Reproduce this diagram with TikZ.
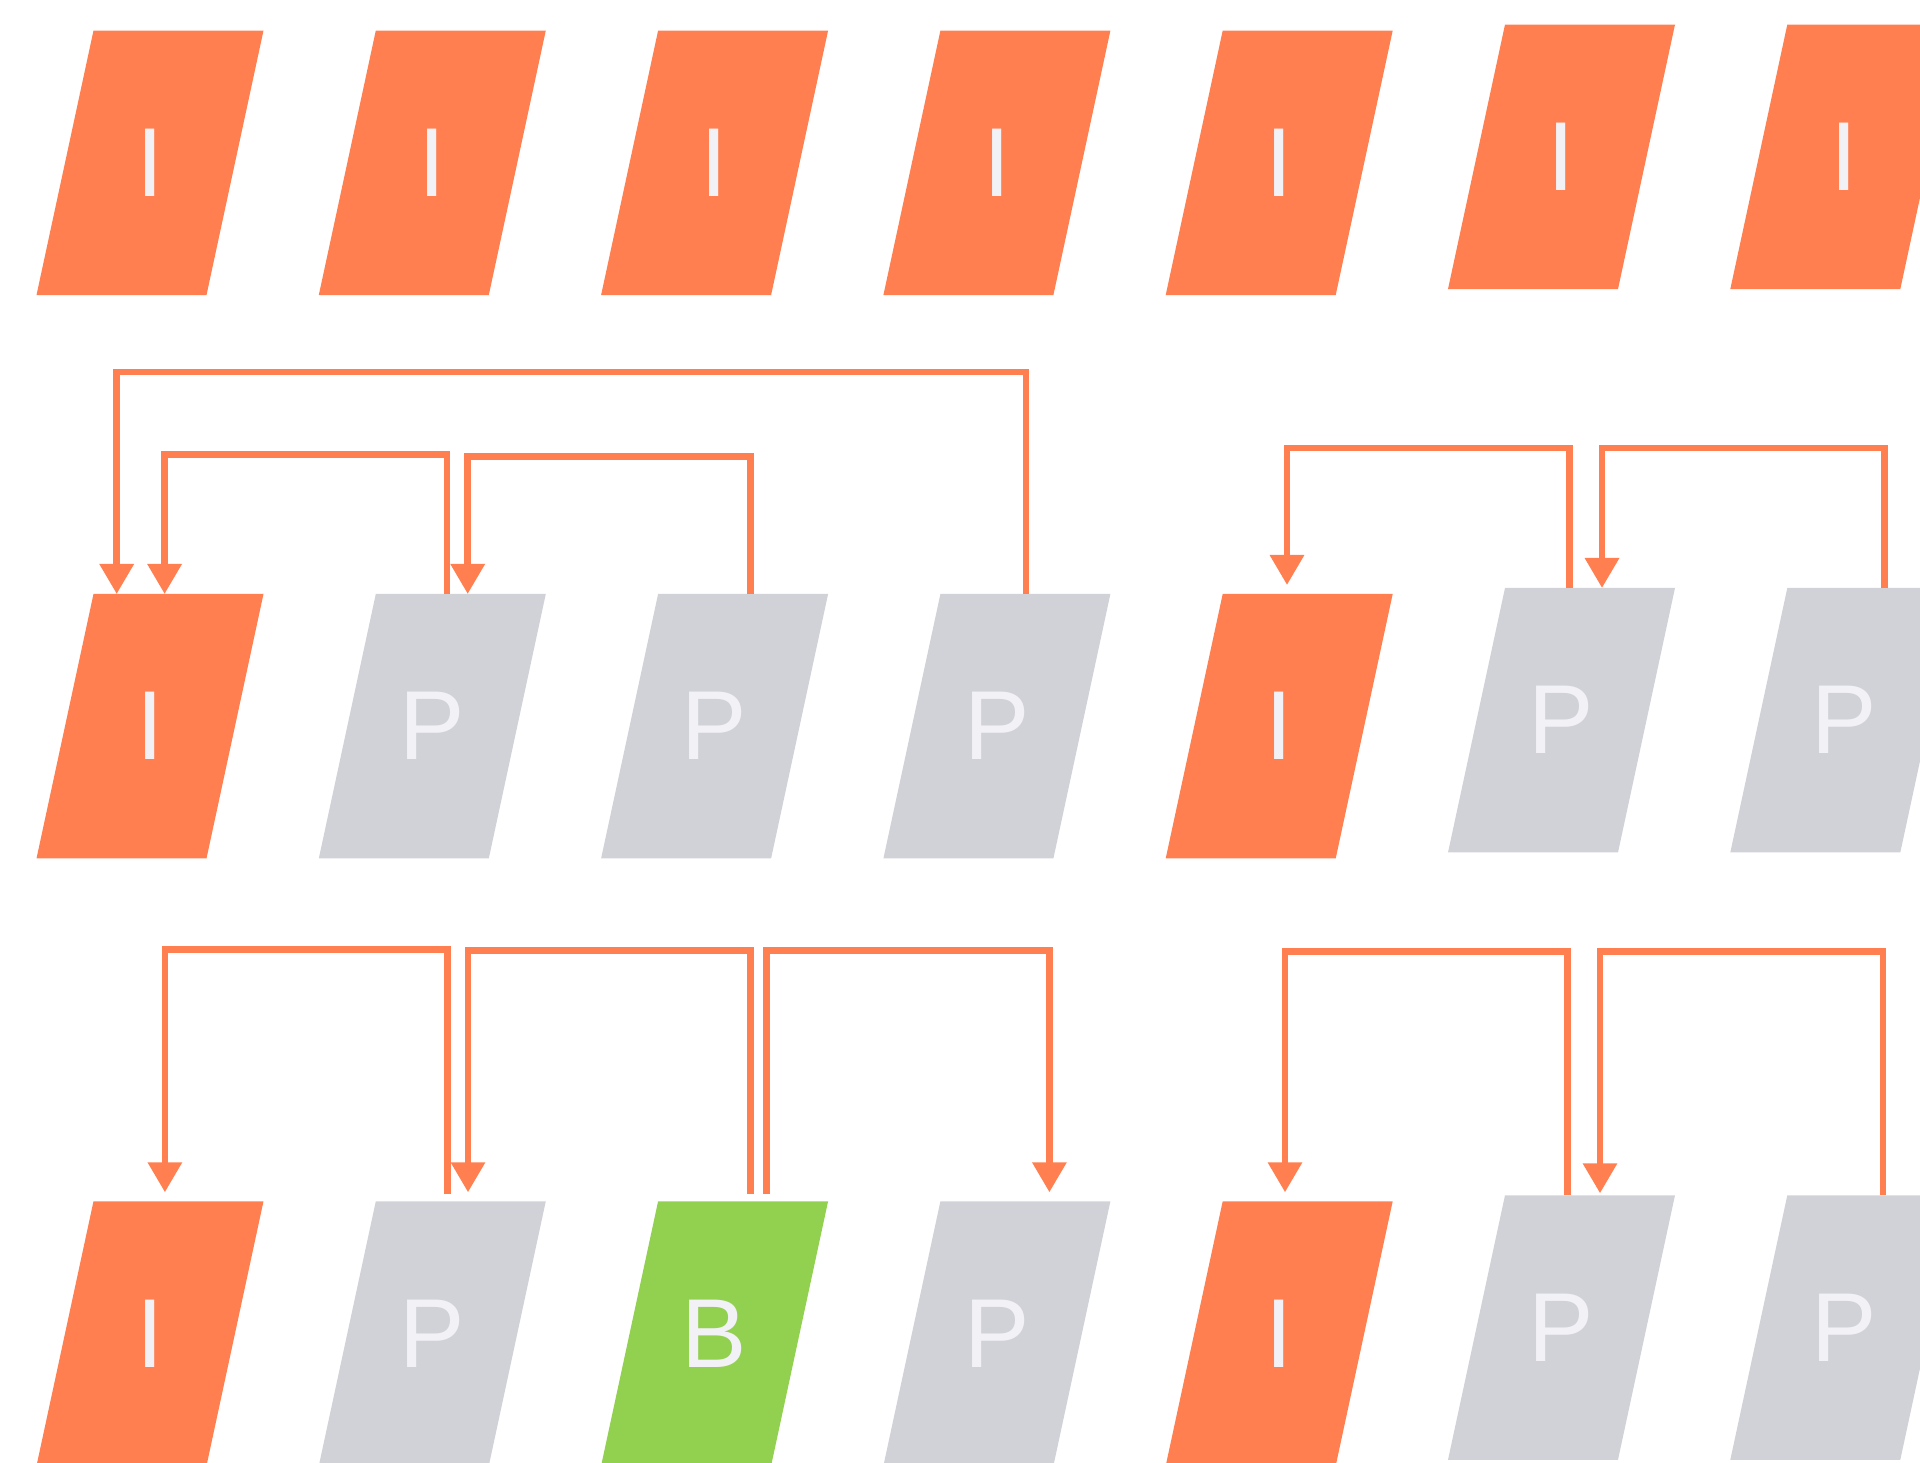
\documentclass[tikz,border=0pt]{standalone}
\usepackage{fontspec}
\setmainfont{Liberation Sans}
\usetikzlibrary{arrows.meta}
\definecolor{coral}{RGB}{255,127,80}
\definecolor{pgrey}{RGB}{209,210,216}
\definecolor{bgreen}{RGB}{146,208,80}
\definecolor{txt}{RGB}{242,241,246}
\tikzset{
  frame/.style={minimum width=227pt, minimum height=264.5pt, inner sep=0pt, outer sep=0pt,
    text=txt, font=\fontsize{98}{98}\selectfont,
    path picture={\fill[#1] ([xshift=57pt]path picture bounding box.north west) -- (path picture bounding box.north east) -- ([xshift=-57pt]path picture bounding box.south east) -- (path picture bounding box.south west) -- cycle;}},
  iframe/.style={frame=coral},
  pframe/.style={frame=pgrey},
  bframe/.style={frame=bgreen},
  conn/.style={draw=coral, line width=6.5pt, line join=miter, -{Triangle[width=33pt,length=30pt]}}
}
\begin{document}
\begin{tikzpicture}[x=1pt,y=-1pt]
\useasboundingbox (0,0) rectangle (1920,1463);
\clip (0,0) rectangle (1920,1463);
% row 1
\node[iframe] (r1c1) at (150,162.8) {I};
\node[iframe] (r1c2) at (432.3,162.8) {I};
\node[iframe] (r1c3) at (714.6,162.8) {I};
\node[iframe] (r1c4) at (996.9,162.8) {I};
\node[iframe] (r1c5) at (1279.2,162.8) {I};
\node[iframe] (r1c6) at (1561.5,156.8) {I};
\node[iframe] (r1c7) at (1843.8,156.8) {I};
% row 2
\node[iframe] (r2c1) at (150,726.2) {I};
\node[pframe] (r2c2) at (432.3,726.2) {P};
\node[pframe] (r2c3) at (714.6,726.2) {P};
\node[pframe] (r2c4) at (996.9,726.2) {P};
\node[iframe] (r2c5) at (1279.2,726.2) {I};
\node[pframe] (r2c6) at (1561.5,720.2) {P};
\node[pframe] (r2c7) at (1843.8,720.2) {P};
% row 3
\node[iframe] (r3c1) at (150,1333.5) {I};
\node[pframe] (r3c2) at (432.3,1333.5) {P};
\node[bframe] (r3c3) at (714.6,1333.5) {B};
\node[pframe] (r3c4) at (996.9,1333.5) {P};
\node[iframe] (r3c5) at (1279.2,1333.5) {I};
\node[pframe] (r3c6) at (1561.5,1327.5) {P};
\node[pframe] (r3c7) at (1843.8,1327.5) {P};
% row 2 connectors
\draw[conn] ([xshift=29pt]r2c4.north) -- ++(0,-222) -| ([xshift=-33.3pt]r2c1.north);
\draw[conn] ([xshift=14.7pt]r2c2.north) -- ++(0,-139.7) -| ([xshift=14.6pt]r2c1.north);
\draw[conn] ([xshift=36pt]r2c3.north) -- ++(0,-137.3) -| ([xshift=35.4pt]r2c2.north);
\draw[conn] ([xshift=8.2pt]r2c6.north) -- ++(0,-139.8) -| ([xshift=7.8pt,yshift=9pt]r2c5.north);
\draw[conn] ([xshift=40.7pt]r2c7.north) -- ++(0,-139.8) -| ([xshift=40.5pt]r2c6.north);
% row 3 connectors
\draw[conn] ([xshift=15.3pt,yshift=7pt]r3c2.north) -- ++(0,-245) -| ([xshift=14.9pt,yshift=9pt]r3c1.north);
\draw[conn] ([xshift=36pt,yshift=7pt]r3c3.north) -- ++(0,-244) -| ([xshift=35.7pt,yshift=9pt]r3c2.north);
\draw[conn] ([xshift=52pt,yshift=7pt]r3c3.north) -- ++(0,-244) -| ([xshift=52.5pt,yshift=9pt]r3c4.north);
\draw[conn] ([xshift=6pt]r3c6.north) -- ++(0,-244) -| ([xshift=5.8pt,yshift=9pt]r3c5.north);
\draw[conn] ([xshift=39pt]r3c7.north) -- ++(0,-244) -| ([xshift=38.5pt,yshift=2pt]r3c6.north);
\end{tikzpicture}
\end{document}
